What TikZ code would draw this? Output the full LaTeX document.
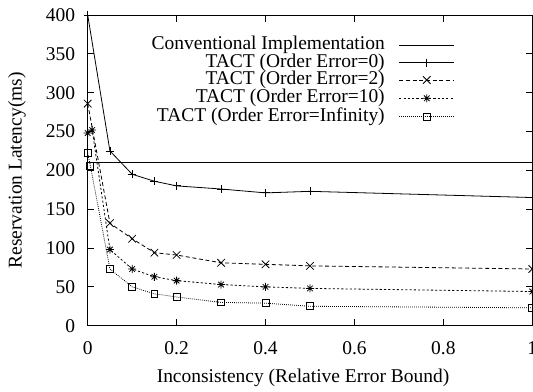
\documentclass[tikz,border=0pt]{standalone}
\usepackage{fontspec}
\setmainfont{Liberation Serif}
\usetikzlibrary{plotmarks}

% gnuplot-like star: plus and cross on top of each other
\pgfdeclareplotmark{gpstar}{%
  \pgfpathmoveto{\pgfqpoint{-\pgfplotmarksize}{0pt}}\pgfpathlineto{\pgfqpoint{\pgfplotmarksize}{0pt}}%
  \pgfpathmoveto{\pgfqpoint{0pt}{-\pgfplotmarksize}}\pgfpathlineto{\pgfqpoint{0pt}{\pgfplotmarksize}}%
  \pgfpathmoveto{\pgfqpoint{-.7\pgfplotmarksize}{-.7\pgfplotmarksize}}\pgfpathlineto{\pgfqpoint{.7\pgfplotmarksize}{.7\pgfplotmarksize}}%
  \pgfpathmoveto{\pgfqpoint{-.7\pgfplotmarksize}{.7\pgfplotmarksize}}\pgfpathlineto{\pgfqpoint{.7\pgfplotmarksize}{-.7\pgfplotmarksize}}%
  \pgfusepathqstroke}

\tikzset{
  lbl/.style={inner sep=0pt, font=\fontsize{14.6}{17}\selectfont},
  ticklbl/.style={lbl},
  frame/.style={line width=0.6pt},
  series/.style={line width=0.6pt, mark options={solid, line width=0.6pt}},
  conv/.style={series},
  ordzero/.style={series, mark=+, mark size=3pt},
  ordtwo/.style={series, dash pattern=on 3pt off 2pt, mark=x, mark size=4pt},
  ordten/.style={series, dash pattern=on 1.6pt off 1.6pt, mark=gpstar, mark size=3pt},
  ordinf/.style={series, dash pattern=on 0.6pt off 0.9pt, mark=square, mark size=2.6pt},
}

\begin{document}
\begin{tikzpicture}[x=0.75pt, y=0.75pt]
  \useasboundingbox (0,0) rectangle (533,392);

  % axis labels
  \node[lbl, rotate=90] (ylabel) at (17,221.6) {Reservation Latency(ms)};
  \node[lbl] (xlabel) at (303,13.7) {Inconsistency (Relative Error Bound)};

  % legend
  \node[lbl, anchor=east] (legconv) at (385,347) {Conventional Implementation};
  \node[lbl, anchor=east] (legzero) at (385,329.3) {TACT (Order Error=0)};
  \node[lbl, anchor=east] (legtwo) at (385,312) {TACT (Order Error=2)};
  \node[lbl, anchor=east] (legten) at (385,293.7) {TACT (Order Error=10)};
  \node[lbl, anchor=east] (leginf) at (385,275.3) {TACT (Order Error=Infinity)};
  \draw[conv] (399.3,347) -- (454.3,347);
  \draw[ordzero, mark=none] (399.3,329.3) -- (454.3,329.3);
  \draw[ordzero, only marks] plot coordinates {(426.8,329.3)};
  \draw[ordtwo, mark=none] (399.3,312) -- (454.3,312);
  \draw[ordtwo, only marks] plot coordinates {(426.8,312)};
  \draw[ordten, mark=none] (399.3,293.7) -- (454.3,293.7);
  \draw[ordten, only marks] plot coordinates {(426.8,293.7)};
  \draw[ordinf, mark=none] (399.3,275.3) -- (454.3,275.3);
  \draw[ordinf, only marks] plot coordinates {(426.8,275.3)};

  % data area: x in [0,1], y in [0,400]
  \begin{scope}[shift={(87.7,66.3)}, x=333.45pt, y=0.5825pt]
    % ticks and tick labels
    \foreach \yv in {0,50,...,400} {
      \draw[frame] (0,\yv) -- ++(5pt,0);
      \draw[frame] (1,\yv) -- ++(-5pt,0);
      \node[ticklbl, anchor=east] at ([xshift=-9.2pt]0,\yv) {\yv};
    }
    \foreach \xv/\xt in {0/0,0.2/0.2,0.4/0.4,0.6/0.6,0.8/0.8,1/1} {
      \draw[frame] (\xv,0) -- ++(0,5pt);
      \draw[frame] (\xv,400) -- ++(0,-5pt);
      \node[ticklbl] at ([yshift=-17pt]\xv,0) {\xt};
    }
    \draw[frame] (0,0) rectangle (1,400);

    % curves
    \draw[conv] (0,210) -- (1,210);
    \draw[ordzero] plot coordinates {(0,400) (0.05,225) (0.1,195) (0.15,186) (0.2,180) (0.3,176) (0.4,171) (0.5,173) (1,165)};
    \draw[ordtwo] plot coordinates {(0,286) (0.05,132) (0.1,112) (0.15,94) (0.2,91) (0.3,81) (0.4,79) (0.5,77) (1,73)};
    \draw[ordten] plot coordinates {(0,248) (0.01,252) (0.05,98) (0.1,73) (0.15,63) (0.2,58) (0.3,53) (0.4,50) (0.5,48) (1,44)};
    \draw[ordinf] plot coordinates {(0,222) (0.006,206) (0.05,73) (0.1,50) (0.15,41) (0.2,37) (0.3,30) (0.4,29) (0.5,25) (1,23)};
  \end{scope}
\end{tikzpicture}
\end{document}
